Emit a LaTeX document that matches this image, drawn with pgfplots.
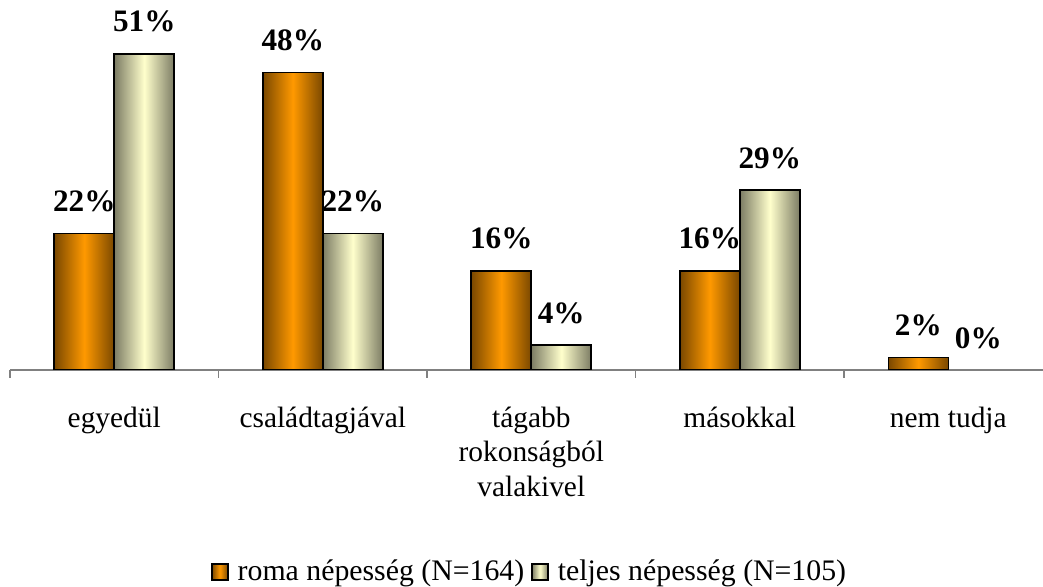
\documentclass[border=0pt]{standalone}
\usepackage{pgfplots}
\pgfplotsset{compat=1.18}
\usepackage{fontspec}
\setmainfont{Liberation Serif}

\definecolor{romamid}{HTML}{FF9900}
\definecolor{romaedge}{HTML}{7A4800}
\definecolor{telmid}{HTML}{FFFFCC}
\definecolor{teledge}{HTML}{7C7C64}
\definecolor{axisgray}{HTML}{808080}

% each bar is its own \addplot so the shading is per bar
\pgfplotsset{
  roma/.style={draw=black, line width=0.8pt, bar shift=-15pt,
    left color=romaedge, right color=romaedge, middle color=romamid},
  teljes/.style={draw=black, line width=0.8pt, bar shift=15pt,
    left color=teledge, right color=teledge, middle color=telmid},
}

\begin{document}
\begin{tikzpicture}
\begin{axis}[
  scale only axis,
  width=516.5pt, height=170.5pt,
  ybar, bar width=30pt,
  xmin=-0.5, xmax=4.454, ymin=0, ymax=55,
  axis x line=bottom, axis y line=none,
  x axis line style={-, draw=axisgray, line width=0.8pt},
  xtick={0,1,2,3,4},
  xticklabels={egyedül, családtagjával, {tágabb\\rokonságból\\valakivel}, másokkal, nem tudja},
  major tick length=0pt,
  minor xtick={-0.5,0.5,1.5,2.5,3.5},
  minor tick length=4pt,
  tick align=outside,
  minor tick style={draw=axisgray, line width=0.8pt},
  xticklabel style={align=center, font=\fontsize{14.7}{17.2}\selectfont, yshift=-15pt},
  ytick=\empty,
  nodes near coords={\textbf{\pgfmathprintnumber[assume math mode=true]{\pgfplotspointmeta}\%}},
  nodes near coords style={font=\fontsize{15.6}{17}\selectfont, yshift=7pt},
  legend style={draw=none, at={(0.504,-0.592)}, anchor=center,
    legend columns=-1, font=\fontsize{14.9}{17}\selectfont,
    /tikz/every odd column/.append style={column sep=2.5pt},
    /tikz/every even column/.append style={column sep=1.5pt}},
  legend image code/.code={\draw[#1] (0pt,-4pt) rectangle (8pt,4pt);},
]
\addplot[roma] coordinates {(0,22)};
\addplot[teljes] coordinates {(0,51)};
\addplot[roma, forget plot] coordinates {(1,48)};
\addplot[roma, forget plot] coordinates {(2,16)};
\addplot[roma, forget plot] coordinates {(3,16)};
\addplot[roma, forget plot] coordinates {(4,2)};
\addplot[teljes, forget plot] coordinates {(1,22)};
\addplot[teljes, forget plot] coordinates {(2,4)};
\addplot[teljes, forget plot] coordinates {(3,29)};
\addplot[teljes, forget plot, draw=none] coordinates {(4,0)};
\legend{roma népesség (N=164), teljes népesség (N=105)}
\end{axis}
\pgfresetboundingbox
\path[use as bounding box] ([xshift=-5pt,yshift=-108.5pt]current axis.south west) rectangle ([yshift=14.5pt]current axis.north east);
\end{tikzpicture}
\end{document}
